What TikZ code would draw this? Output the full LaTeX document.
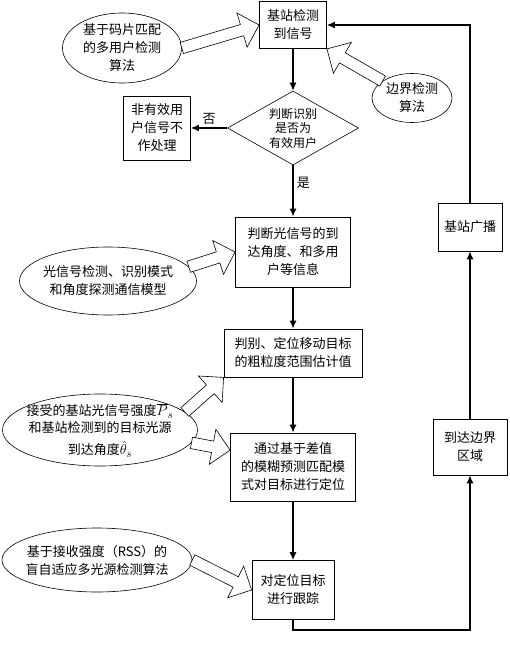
\documentclass[tikz,border=0pt]{standalone}
\usepackage{amsmath,amssymb}
\usepackage{fontspec}
\setmainfont{Noto Sans CJK SC}
\usetikzlibrary{shapes.geometric,shapes.arrows,arrows.meta,calc}

\tikzset{
  box/.style={draw, rectangle, align=center, inner sep=2pt, line width=0.8pt},
  bubble/.style={draw, ellipse, align=center, inner sep=-12pt, line width=0.6pt},
  decide/.style={draw, diamond, align=center, aspect=1.77, inner sep=0pt, line width=0.6pt,
    font=\fontsize{12}{14.5}\selectfont},
  flow/.style={-{Latex[length=8pt,width=7pt]}, line width=1.2pt},
  hollow/.style={draw, fill=white, single arrow, single arrow head extend=12pt,
    inner xsep=0pt, inner ysep=5.5pt, text height=0pt, text depth=0pt,
    outer sep=0pt, line width=0.6pt},
}

% hollow block arrow: name, tail, tip
\newcommand{\fatarrow}[3]{%
  \path let \p1=(#2), \p2=(#3), \n1={atan2(\y2-\y1,\x2-\x1)}, \n2={veclen(\x2-\x1,\y2-\y1)} in
    node[hollow, rotate=\n1, minimum height=\n2, anchor=tail] (#1) at (\p1) {};}
% larger math symbol inside text
\newcommand{\bigsym}[1]{{\fontsize{15}{18}\selectfont$#1$}}

\begin{document}
\begin{tikzpicture}[x=1pt, y=-1pt, every node/.style={font=\fontsize{13}{18}\selectfont}]
      \useasboundingbox (0,0) rectangle (510,645);

      % Main flow boxes
      \node[box, minimum width=67, minimum height=47] (detect) at (293,25) {基站检测\\到信号};
      \node[decide, minimum width=131, minimum height=74] (valid) at (293,128) {判断识别\\是否为\\有效用户};
      \node[box, minimum width=67, minimum height=64] (drop) at (157,128) {非有效用\\户信号不\\作处理};
      \node[box, minimum width=115, minimum height=70] (angle) at (293,252) {判断光信号的到\\达角度、和多用\\户等信息};
      \node[box, minimum width=138, minimum height=48] (coarse) at (293,353) {判别、定位移动目标\\的粗粒度范围估计值};
      \node[box, minimum width=125, minimum height=68] (locate) at (293,467) {通过基于差值\\的模糊预测匹配模\\式对目标进行定位};
      \node[box, minimum width=82, minimum height=59] (track) at (293,590) {对定位目标\\进行跟踪};
      \node[box, minimum width=74, minimum height=56] (edge) at (470,447) {到达边界\\区域};
      \node[box, minimum width=64, minimum height=48] (bcast) at (470,227) {基站广播};

      % Methods in ellipses
      \node[bubble, minimum width=119, minimum height=70] (chip) at (122,48) {基于码片匹配\\的多用户检测\\算法};
      \node[bubble, minimum width=80, minimum height=49] (border) at (412,98) {边界检测\\算法};
      \node[bubble, minimum width=177, minimum height=68] (model) at (108,281) {光信号检测、识别模式\\和角度探测通信模型};
      \node[bubble, minimum width=195, minimum height=72] (rss) at (100,430) {接受的基站光信号强度\bigsym{\overline{P}_s}\\[-1pt]和基站检测到的目标光源\\[4pt]到达角度\bigsym{\hat{\theta}_s}};
      \node[bubble, minimum width=190, minimum height=64] (blind) at (97,560) {基于接收强度（RSS）的\\盲自适应多光源检测算法};

      % Hollow arrows from methods
      \fatarrow{a1}{chip.east}{detect.west}
      \fatarrow{a2}{border.150}{detect.south east}
      \fatarrow{a3}{model.10}{angle.west}
      \fatarrow{a4}{rss.12}{coarse.south west}
      \fatarrow{a5}{rss.-8}{locate.165}
      \fatarrow{a6}{blind.east}{track.west}

      % Flow arrows
      \draw[flow] (detect) -- (valid);
      \draw[flow] (valid) -- node[above] {否} (drop);
      \draw[flow] (valid) -- node[pos=0.35, right] {是} (angle);
      \draw[flow] (angle) -- (coarse);
      \draw[flow] (coarse) -- (locate);
      \draw[flow] (locate) -- (track);
      \draw[flow] (track.south) -- ++(0,10) -| (edge.south);
      \draw[flow] (edge) -- (bcast);
      \draw[flow] (bcast.north) |- (detect.east);
    \end{tikzpicture}
\end{document}
